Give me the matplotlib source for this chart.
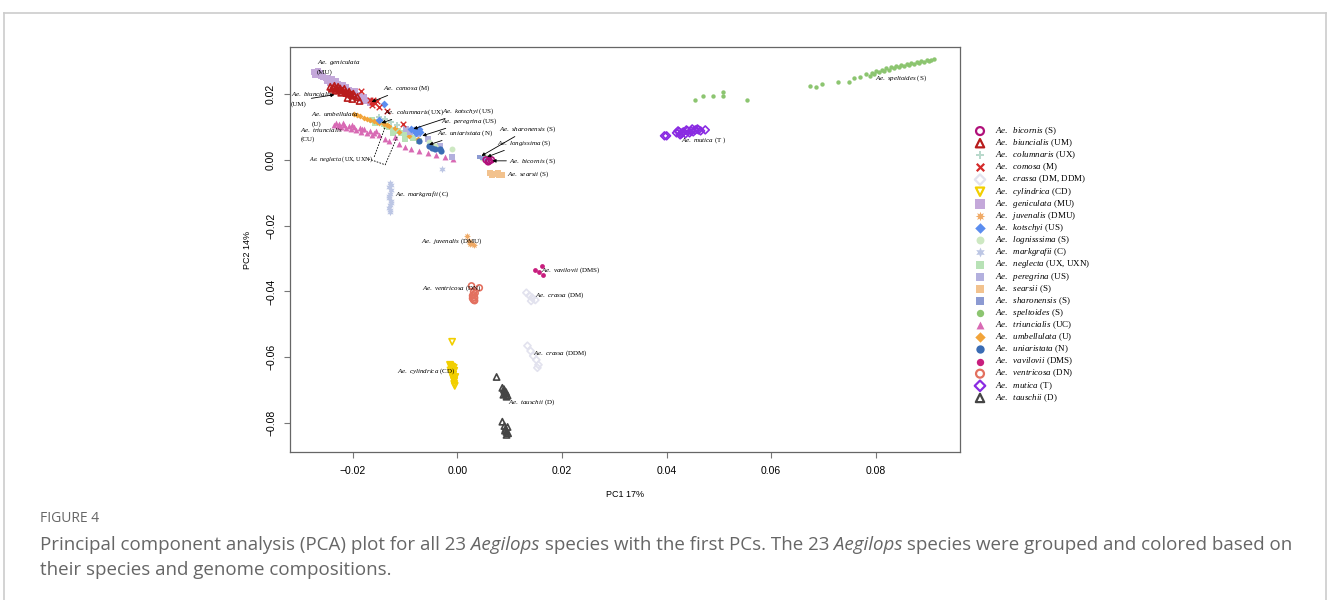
"""PCA plot of 23 Aegilops species (PC1 vs PC2)."""

import matplotlib

matplotlib.use("Agg")
import matplotlib.pyplot as plt
from matplotlib.lines import Line2D

plt.rcParams["mathtext.fontset"] = "custom"
plt.rcParams["mathtext.rm"] = "Liberation Serif"
plt.rcParams["mathtext.it"] = "Liberation Serif:italic"

# ---- data: PC1 / PC2 coordinates ----
geniculata_x = [-0.0275, -0.0268, -0.0260, -0.0252, -0.0245, -0.0237, -0.0229, -0.0222, -0.0214, -0.0207,
                -0.0199, -0.0191, -0.0184, -0.0176, -0.0168, -0.0272, -0.0262, -0.0250, -0.0240, -0.0228,
                -0.0218, -0.0205, -0.0195, -0.0186, -0.0178, -0.0266, -0.0256, -0.0244, -0.0232, -0.0220,
                -0.0270, -0.0258, -0.0247, -0.0235, -0.0224, -0.0212, -0.0201, -0.0189, -0.0180, -0.0171]
geniculata_y = [0.0267, 0.0261, 0.0255, 0.0249, 0.0243, 0.0237, 0.0231, 0.0225, 0.0219, 0.0213,
                0.0207, 0.0198, 0.0191, 0.0182, 0.0173, 0.0258, 0.0264, 0.0240, 0.0246, 0.0222,
                0.0228, 0.0204, 0.0210, 0.0185, 0.0191, 0.0270, 0.0252, 0.0234, 0.0240, 0.0216,
                0.0262, 0.0256, 0.0250, 0.0232, 0.0220, 0.0221, 0.0200, 0.0194, 0.0178, 0.0179]
biuncialis_x = [-0.0243, -0.0237, -0.0231, -0.0226, -0.0220, -0.0214, -0.0208, -0.0203, -0.0197, -0.0191,
                -0.0233, -0.0222, -0.0216, -0.0207, -0.0210, -0.0201, -0.0187, -0.0240, -0.0228, -0.0235,
                -0.0224, -0.0212, -0.0199]
biuncialis_y = [0.0222, 0.0219, 0.0216, 0.0213, 0.0210, 0.0207, 0.0201, 0.0198, 0.0195, 0.0191,
                0.0210, 0.0204, 0.0216, 0.0207, 0.0188, 0.0185, 0.0179, 0.0216, 0.0222, 0.0225,
                0.0217, 0.0203, 0.0201]
comosa_x = [-0.0184, -0.0168, -0.0164, -0.0161, -0.0157, -0.0163, -0.0153, -0.0149, -0.0134, -0.0103]
comosa_y = [0.0210, 0.0182, 0.0176, 0.0182, 0.0173, 0.0167, 0.0179, 0.0161, 0.0149, 0.0109]
kotschyi_x = [-0.0140, -0.0149, -0.0088, -0.0082, -0.0076, -0.0071, -0.0080, -0.0073]
kotschyi_y = [0.0170, 0.0122, 0.0094, 0.0091, 0.0088, 0.0085, 0.0082, 0.0094]
peregrina_x = [-0.0098, -0.0076, -0.0057, -0.0034, -0.0010, -0.0090]
peregrina_y = [0.0094, 0.0079, 0.0064, 0.0043, 0.0009, 0.0085]
umbellulata_x = [-0.0197, -0.0187, -0.0178, -0.0168, -0.0159, -0.0149, -0.0140, -0.0130, -0.0120, -0.0111,
                 -0.0092, -0.0076, -0.0192, -0.0173, -0.0154, -0.0135]
umbellulata_y = [0.0140, 0.0134, 0.0128, 0.0122, 0.0119, 0.0112, 0.0109, 0.0103, 0.0097, 0.0085,
                 0.0073, 0.0064, 0.0137, 0.0125, 0.0115, 0.0106]
neglecta_x = [-0.0164, -0.0153, -0.0141, -0.0130, -0.0119, -0.0107, -0.0096, -0.0084, -0.0073, -0.0124,
              -0.0101, -0.0158, -0.0136, -0.0113]
neglecta_y = [0.0122, 0.0116, 0.0109, 0.0100, 0.0091, 0.0082, 0.0076, 0.0067, 0.0058, 0.0082,
              0.0064, 0.0112, 0.0103, 0.0088]
columnaris_x = [-0.0149, -0.0138, -0.0126, -0.0115]
columnaris_y = [0.0131, 0.0125, 0.0116, 0.0106]
lognissima_x = [-0.0011, -0.0054, 0.0048, 0.0054, -0.0042]
lognissima_y = [0.0033, 0.0055, 0.0006, 0.0009, 0.0043]
triuncialis_x = [-0.0233, -0.0226, -0.0216, -0.0207, -0.0197, -0.0187, -0.0178, -0.0168, -0.0159, -0.0149,
                 -0.0222, -0.0203, -0.0184, -0.0164, -0.0130, -0.0111, -0.0101, -0.0088, -0.0073, -0.0057,
                 -0.0040, -0.0023, -0.0008, -0.0120, -0.0138, -0.0229, -0.0212, -0.0193, -0.0236, -0.0219,
                 -0.0201, -0.0182, -0.0172, -0.0155]
triuncialis_y = [0.0112, 0.0109, 0.0106, 0.0103, 0.0100, 0.0097, 0.0094, 0.0088, 0.0082, 0.0076,
                 0.0100, 0.0094, 0.0085, 0.0076, 0.0058, 0.0049, 0.0040, 0.0033, 0.0027, 0.0021,
                 0.0015, 0.0009, 0.0003, 0.0070, 0.0064, 0.0103, 0.0097, 0.0091, 0.0106, 0.0112,
                 0.0106, 0.0094, 0.0082, 0.0088]
uniaristata_x = [-0.0054, -0.0048, -0.0042, -0.0034, -0.0031, -0.0073]
uniaristata_y = [0.0043, 0.0036, 0.0033, 0.0033, 0.0027, 0.0058]
markgrafii_x = [-0.0128, -0.0130, -0.0126, -0.0128, -0.0130, -0.0126, -0.0128, -0.0130, -0.0128, -0.0029,
                -0.0126, -0.0130, -0.0127, -0.0129]
markgrafii_y = [-0.0070, -0.0082, -0.0091, -0.0103, -0.0116, -0.0125, -0.0137, -0.0146, -0.0158, -0.0027,
                -0.0076, -0.0110, -0.0131, -0.0152]
sharonensis_x = [0.0042, 0.0048, 0.0054]
sharonensis_y = [0.0009, 0.0006, 0.0003]
bicornis_x = [0.0055, 0.0061, 0.0065, 0.0059]
bicornis_y = [0.0000, -0.0003, 0.0000, -0.0006]
searsii_x = [0.0063, 0.0069, 0.0075, 0.0080, 0.0086, 0.0066, 0.0078]
searsii_y = [-0.0040, -0.0043, -0.0043, -0.0046, -0.0046, -0.0046, -0.0040]
juvenalis_x = [0.0019, 0.0023, 0.0027, 0.0031, 0.0025]
juvenalis_y = [-0.0231, -0.0246, -0.0252, -0.0258, -0.0255]
vavilovii_x = [0.0149, 0.0161, 0.0157, 0.0163]
vavilovii_y = [-0.0334, -0.0322, -0.0340, -0.0350]
ventricosa_x = [0.0027, 0.0042, 0.0031, 0.0031, 0.0033, 0.0031, 0.0029, 0.0034, 0.0029, 0.0033]
ventricosa_y = [-0.0383, -0.0389, -0.0401, -0.0410, -0.0419, -0.0426, -0.0413, -0.0405, -0.0421, -0.0428]
crassa_x = [0.0132, 0.0138, 0.0143, 0.0149, 0.0141, 0.0134, 0.0140, 0.0145, 0.0151, 0.0155, 0.0153]
crassa_y = [-0.0404, -0.0413, -0.0419, -0.0426, -0.0429, -0.0565, -0.0581, -0.0596, -0.0608, -0.0623, -0.0632]
cylindrica_x = [-0.0010, -0.0013, -0.0011, -0.0010, -0.0008, -0.0008, -0.0006, -0.0006, -0.0010, -0.0006,
                -0.0014, -0.0012, -0.0009, -0.0007, -0.0005, -0.0007, -0.0013, -0.0004]
cylindrica_y = [-0.0553, -0.0626, -0.0635, -0.0644, -0.0653, -0.0663, -0.0672, -0.0681, -0.0629, -0.0641,
                -0.0623, -0.0648, -0.0658, -0.0668, -0.0687, -0.0632, -0.0640, -0.0660]
tauschii_x = [0.0075, 0.0086, 0.0090, 0.0092, 0.0094, 0.0088, 0.0086, 0.0090, 0.0092, 0.0094, 0.0094, 0.0096,
              0.0089, 0.0093, 0.0096, 0.0091, 0.0097]
tauschii_y = [-0.0660, -0.0693, -0.0702, -0.0711, -0.0720, -0.0714, -0.0796, -0.0809, -0.0818, -0.0827,
              -0.0836, -0.0812, -0.0697, -0.0706, -0.0716, -0.0823, -0.0831]
mutica_x = [0.0396, 0.0419, 0.0424, 0.0432, 0.0440, 0.0447, 0.0455, 0.0461, 0.0428, 0.0444, 0.0436, 0.0474,
            0.0400, 0.0422, 0.0430, 0.0438, 0.0451, 0.0459, 0.0465, 0.0426, 0.0449]
mutica_y = [0.0073, 0.0082, 0.0085, 0.0085, 0.0088, 0.0088, 0.0091, 0.0091, 0.0079, 0.0082, 0.0079, 0.0091,
            0.0073, 0.0088, 0.0082, 0.0091, 0.0085, 0.0094, 0.0088, 0.0076, 0.0094]
speltoides_x = [0.0455, 0.0470, 0.0488, 0.0507, 0.0507, 0.0554, 0.0675, 0.0685, 0.0698, 0.0728, 0.0748,
                0.0759, 0.0769, 0.0782, 0.0792, 0.0801, 0.0811, 0.0820, 0.0830, 0.0839, 0.0849, 0.0859,
                0.0868, 0.0878, 0.0887, 0.0897, 0.0906, 0.0912, 0.0788, 0.0807, 0.0826, 0.0845, 0.0864,
                0.0883, 0.0796, 0.0815, 0.0834, 0.0854, 0.0873, 0.0892, 0.0902]
speltoides_y = [0.0182, 0.0195, 0.0195, 0.0207, 0.0195, 0.0182, 0.0225, 0.0222, 0.0231, 0.0237, 0.0237,
                0.0249, 0.0252, 0.0261, 0.0264, 0.0271, 0.0274, 0.0280, 0.0283, 0.0286, 0.0289, 0.0292,
                0.0295, 0.0298, 0.0301, 0.0304, 0.0304, 0.0307, 0.0255, 0.0267, 0.0274, 0.0283, 0.0289,
                0.0295, 0.0262, 0.0270, 0.0279, 0.0285, 0.0292, 0.0298, 0.0300]

legend_names = ["bicornis", "biuncialis", "columnaris", "comosa", "crassa", "cylindrica", "geniculata",
                "juvenalis", "kotschyi", "lognisssima", "markgrafii", "neglecta", "peregrina", "searsii",
                "sharonensis", "speltoides", "triuncialis", "umbellulata", "uniaristata", "vavilovii",
                "ventricosa", "mutica", "tauschii"]
legend_genomes = ["(S)", "(UM)", "(UX)", "(M)", "(DM, DDM)", "(CD)", "(MU)", "(DMU)", "(US)", "(S)", "(C)",
                  "(UX, UXN)", "(US)", "(S)", "(S)", "(S)", "(UC)", "(U)", "(N)", "(DMS)", "(DN)", "(T)", "(D)"]

# (species, text, text x, text y, arrow target or None)
annotations = [
    ("geniculata", "\n(MU)", -0.0268, 0.0283, None),
    ("biuncialis", "\n(UM)", -0.0319, 0.0187, (-0.0235, 0.0198)),
    ("comosa", " (M)", -0.0143, 0.0219, (-0.0164, 0.0176)),
    ("umbellulata", "\n(U)", -0.0279, 0.0126, None),
    ("columnaris", "(UX)", -0.0141, 0.0146, (-0.0145, 0.0112)),
    ("kotschyi", " (US)", -0.0029, 0.0149, (-0.0084, 0.0094)),
    ("peregrina", " (US)", -0.0031, 0.0119, (-0.0067, 0.0073)),
    ("triuncialis", "\n(CU)", -0.0300, 0.0079, None),
    ("uniaristata", " (N)", -0.0038, 0.0082, (-0.0054, 0.0046)),
    ("neglecta", " (UX, UXN)", -0.0283, 0.0003, None),
    ("sharonensis", " (S)", 0.0080, 0.0094, (0.0046, 0.0012)),
    ("longissima", " (S)", 0.0076, 0.0052, (0.0057, 0.0009)),
    ("bicornis", " (S)", 0.0099, -0.0003, (0.0067, -0.0003)),
    ("searsii", " (S)", 0.0094, -0.0043, None),
    ("markgrafii", " (C)", -0.0119, -0.0103, None),
    ("juvenalis", " (DMU)", -0.0069, -0.0246, None),
    ("vavilovii", " (DMS)", 0.0159, -0.0334, None),
    ("ventricosa", " (DN)", -0.0067, -0.0389, None),
    ("crassa", " (DM)", 0.0149, -0.0410, None),
    ("crassa", " (DDM)", 0.0145, -0.0587, None),
    ("cylindrica", " (CD)", -0.0115, -0.0641, None),
    ("tauschii", " (D)", 0.0096, -0.0736, None),
    ("mutica", " (T )", 0.0428, 0.0061, None),
    ("speltoides", " (S)", 0.0799, 0.0249, None),
]
neglecta_bracket_x = [-0.0170, -0.0138, -0.0115]
neglecta_bracket_y = [0.0003, -0.0015, 0.0070]
neglecta_arm_x = [-0.0159, -0.0138]
neglecta_arm_y = [0.0009, 0.0100]

# ---- styles: marker, colour, size, open marker ----
styles = {
    "bicornis": ("o", "#B0107A", 18, True),
    "biuncialis": ("^", "#B81C1C", 20, True),
    "columnaris": ("P", "#B9D9CC", 18, False),
    "comosa": ("x", "#D42A2A", 16, False),
    "crassa": ("D", "#E2E2EE", 13, True),
    "cylindrica": ("v", "#F2CF00", 20, True),
    "geniculata": ("s", "#C4A8DA", 24, False),
    "juvenalis": ((8, 1, 0), "#F0AA66", 26, False),
    "kotschyi": ("D", "#5B8DEF", 16, False),
    "lognisssima": ("o", "#CDE8C2", 18, False),
    "markgrafii": ((6, 1, 0), "#BCC6E4", 28, False),
    "neglecta": ("s", "#B8E2B6", 20, False),
    "peregrina": ("s", "#B3B0DE", 18, False),
    "searsii": ("s", "#F2C28E", 20, False),
    "sharonensis": ("s", "#8C9AD2", 10, False),
    "speltoides": ("o", "#8CC570", 10, False),
    "triuncialis": ("^", "#D86AB4", 18, False),
    "umbellulata": ("D", "#F2A43A", 9, False),
    "uniaristata": ("o", "#3A6CB4", 20, False),
    "vavilovii": ("o", "#C81E7E", 12, False),
    "ventricosa": ("o", "#E3705F", 18, True),
    "mutica": ("D", "#8A2BE2", 16, True),
    "tauschii": ("^", "#454545", 20, True),
}

point_sets = [
    ("geniculata", geniculata_x, geniculata_y),
    ("neglecta", neglecta_x, neglecta_y),
    ("umbellulata", umbellulata_x, umbellulata_y),
    ("triuncialis", triuncialis_x, triuncialis_y),
    ("columnaris", columnaris_x, columnaris_y),
    ("peregrina", peregrina_x, peregrina_y),
    ("lognisssima", lognissima_x, lognissima_y),
    ("kotschyi", kotschyi_x, kotschyi_y),
    ("uniaristata", uniaristata_x, uniaristata_y),
    ("biuncialis", biuncialis_x, biuncialis_y),
    ("comosa", comosa_x, comosa_y),
    ("markgrafii", markgrafii_x, markgrafii_y),
    ("sharonensis", sharonensis_x, sharonensis_y),
    ("bicornis", bicornis_x, bicornis_y),
    ("searsii", searsii_x, searsii_y),
    ("juvenalis", juvenalis_x, juvenalis_y),
    ("vavilovii", vavilovii_x, vavilovii_y),
    ("ventricosa", ventricosa_x, ventricosa_y),
    ("crassa", crassa_x, crassa_y),
    ("cylindrica", cylindrica_x, cylindrica_y),
    ("tauschii", tauschii_x, tauschii_y),
    ("mutica", mutica_x, mutica_y),
    ("speltoides", speltoides_x, speltoides_y),
]

W, H = 1328, 600
fig = plt.figure(figsize=(W / 100, H / 100), dpi=100)

# outer frame of the figure panel
frame = dict(color="#CCCCCC", lw=1.2, transform=fig.transFigure)
fig.add_artist(Line2D([4 / W, 4 / W], [0, 1 - 12.5 / H], **frame))
fig.add_artist(Line2D([1326 / W, 1326 / W], [0, 1 - 12.5 / H], **frame))
fig.add_artist(Line2D([4 / W, 1326 / W], [1 - 12.5 / H, 1 - 12.5 / H], **frame))

ax = fig.add_axes([290 / W, 1 - 452 / H, 670 / W, 405 / H])
for name, xs, ys in point_sets:
    marker, color, size, hollow = styles[name]
    if hollow:
        ax.scatter(xs, ys, s=size, marker=marker, facecolors="none", edgecolors=color, linewidths=1.2)
    else:
        ax.scatter(xs, ys, s=size, marker=marker, c=color, linewidths=1.0 if marker == "x" else 0)

ax.set_xlim(-0.0320, 0.0961)
ax.set_ylim(-0.0888, 0.0343)
ax.set_xticks([-0.02, 0.0, 0.02, 0.04, 0.06, 0.08])
ax.set_yticks([0.02, 0.0, -0.02, -0.04, -0.06, -0.08])
ax.set_xticklabels(["\u22120.02", "0.00", "0.02", "0.04", "0.06", "0.08"])
ax.set_yticklabels(["0.02", "0.00", "\u22120.02", "\u22120.04", "\u22120.06", "\u22120.08"], rotation=90, va="center")
ax.tick_params(labelsize=7.5, length=4, color="#777777", width=0.8, pad=6)
for lab in ax.get_xticklabels() + ax.get_yticklabels():
    lab.set_fontfamily("Liberation Sans")
for spine in ax.spines.values():
    spine.set_color("#666666")
    spine.set_linewidth(0.9)
ax.set_xlabel("PC1 17%", fontsize=6.5, fontfamily="Liberation Sans", labelpad=10)
ax.set_ylabel("PC2 14%", fontsize=6.5, fontfamily="Liberation Sans", labelpad=10)

arrow = dict(arrowstyle="-|>", lw=0.6, color="black", mutation_scale=5, shrinkA=0, shrinkB=0)
for name, suffix, tx, ty, target in annotations:
    label = r"$\it{Ae.\ " + name + "}$" + suffix
    size = 4.4 if name == "neglecta" else 5
    if target is None:
        ax.text(tx, ty, label, fontsize=size, fontfamily="Liberation Serif", va="center", ha="left",
                linespacing=1.6)
    else:
        ax.annotate(label, xy=target, xytext=(tx, ty), fontsize=size, fontfamily="Liberation Serif",
                    va="center", ha="left", linespacing=1.6, arrowprops=arrow)
ax.plot(neglecta_bracket_x, neglecta_bracket_y, ls=(0, (2, 1.5)), lw=0.6, color="black")
ax.plot(neglecta_arm_x, neglecta_arm_y, ls=(0, (2, 1.5)), lw=0.6, color="black")

# legend drawn in its own axes, one row per species
leg = fig.add_axes([970 / W, 1 - 404 / H, 160 / W, 279 / H])
leg.set_xlim(0, 160)
leg.set_ylim(22.5, -0.5)
leg.axis("off")
for row, (name, genome) in enumerate(zip(legend_names, legend_genomes)):
    marker, color, size, hollow = styles[name]
    size = max(size * 1.8, 28)
    if hollow:
        leg.scatter([10], [row], s=size, marker=marker, facecolors="none", edgecolors=color, linewidths=1.6)
    else:
        leg.scatter([10], [row], s=size, marker=marker, c=color, linewidths=1.6 if marker == "x" else 0)
    leg.text(25, row, r"$\it{Ae.\ \ " + name + "}$ " + genome, fontsize=6.5,
             fontfamily="Liberation Serif", va="center", ha="left")


def draw_runs(x_px, y_px, runs, **kw):
    renderer = fig.canvas.get_renderer()
    x = x_px / W
    for text, style in runs:
        t = fig.text(x, 1 - y_px / H, text, style=style, va="center", **kw)
        x += t.get_window_extent(renderer).width / fig.bbox.width


caption = dict(fontsize=13.5, color="#666666", fontfamily="Open Sans")
fig.text(40 / W, 1 - 519 / H, "FIGURE 4", fontsize=10, color="#666666", fontfamily="Open Sans",
         va="center")
draw_runs(40, 545, [
    ("Principal component analysis (PCA) plot for all 23", "normal"),
    (" Aegilops", "italic"),
    (" species with the first PCs. The 23", "normal"),
    (" Aegilops", "italic"),
    (" species were grouped and colored based on", "normal"),
], **caption)
draw_runs(40, 570, [("their species and genome compositions.", "normal")], **caption)

fig.savefig("out.png", dpi=100)
